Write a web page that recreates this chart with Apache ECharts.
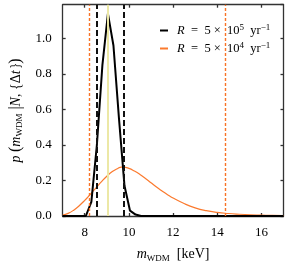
<!DOCTYPE html>
<html>
<head>
<meta charset="utf-8">
<script src="https://cdn.jsdelivr.net/npm/echarts@6/dist/echarts.min.js"></script>
<style>
html,body{margin:0;padding:0;background:#fff;}
#c{width:290px;height:268px;}
</style>
</head>
<body>
<div id="c"></div>
<script>
// Data
const massHigh = [7.0, 8.05, 8.30, 8.55, 8.80, 9.05, 9.30, 9.55, 9.80, 10.05, 10.30, 10.55, 17.0];
const probHigh = [0.0, 0.0, 0.08, 0.40, 0.85, 1.14, 0.96, 0.55, 0.17, 0.03, 0.008, 0.0, 0.0];

const massLow = [7.0, 7.25, 7.5, 7.75, 8.0, 8.25, 8.5, 8.75, 9.0, 9.25, 9.5, 9.65, 9.75, 10.0, 10.25, 10.5, 10.75, 11.0, 11.25, 11.5, 11.75, 12.0, 12.5, 13.0, 13.5, 14.0, 14.5, 15.0, 15.5, 16.0, 16.5, 17.0];
const probLow = [0.005, 0.015, 0.033, 0.058, 0.088, 0.122, 0.157, 0.192, 0.224, 0.25, 0.268, 0.275, 0.275, 0.268, 0.253, 0.234, 0.211, 0.187, 0.163, 0.141, 0.12, 0.101, 0.07, 0.046, 0.03, 0.02, 0.014, 0.01, 0.007, 0.005, 0.003, 0.002];

const highIntervalBounds = [8.54, 9.75];
const lowIntervalBounds = [8.21, 14.37];
const trueMass = [9.05];

const xTicks = [8, 10, 12, 14, 16];
const seriesNames = ['high', 'low'];

const font = 'Liberation Serif';
const chart = echarts.init(document.getElementById('c'), null, {renderer: 'canvas'});

const axisLineStyle = {color: '#333', width: 1.3};
const legendRich = {
  it: {fontStyle: 'italic', fontSize: 12.5, fontFamily: font, color: '#000', lineHeight: 15},
  n: {fontSize: 12.5, fontFamily: font, color: '#000', lineHeight: 15},
  sup: {fontSize: 9, fontFamily: font, verticalAlign: 'top', lineHeight: 15, color: '#000'}
};
const nameRich = {
  it: {fontStyle: 'italic', fontSize: 14, fontFamily: font, color: '#000', lineHeight: 17},
  sub: {fontSize: 9, fontFamily: font, color: '#000', verticalAlign: 'bottom', lineHeight: 17},
  n: {fontSize: 14, fontFamily: font, color: '#000', lineHeight: 17},
  big: {fontSize: 16, fontFamily: font, color: '#000', lineHeight: 17}
};

chart.setOption({
  animation: false,
  backgroundColor: '#fff',
  grid: {left: 54.7, right: 6.5, top: 4.7, bottom: 47.5},
  legend: {
    data: seriesNames,
    orient: 'vertical',
    left: 155,
    top: 18,
    itemWidth: 8,
    itemHeight: 2,
    itemGap: 4,
    icon: 'rect',
    formatter: function (name) {
      if (name === 'high') return '{it|R} {n| =  5 ×  10}{sup|5}{n|  yr}{sup|−1}';
      return '{it|R} {n| =  5 ×  10}{sup|4}{n|  yr}{sup|−1}';
    },
    textStyle: {rich: legendRich, padding: [0, 0, 0, 4]}
  },
  xAxis: [{
    type: 'value', min: 7, max: 17,
    name: '{it|m}{sub|WDM}{n|  [keV]}',
    nameLocation: 'middle', nameGap: 30,
    nameTextStyle: {rich: nameRich},
    axisLine: {show: true, lineStyle: axisLineStyle},
    axisTick: {show: true, inside: true, length: 3, lineStyle: axisLineStyle, customValues: xTicks},
    axisLabel: {customValues: xTicks, margin: 10, fontFamily: font, fontSize: 13, color: '#000'},
    splitLine: {show: false}
  }, {
    type: 'value', min: 7, max: 17, position: 'top',
    axisLine: {show: true, onZero: false, lineStyle: axisLineStyle},
    axisTick: {show: true, inside: true, length: 3, lineStyle: axisLineStyle, customValues: xTicks},
    axisLabel: {show: false},
    splitLine: {show: false}
  }],
  yAxis: [{
    type: 'value', min: 0, max: 1.19, interval: 0.2,
    name: '{it|p} {big|(}{it|m}{sub|WDM}{big| |}{it|N}{n|, {Δ}{it|t}{n|\u2009}}{big|)}',
    nameLocation: 'middle', nameGap: 32, nameRotate: 90,
    nameTextStyle: {rich: nameRich},
    axisLine: {show: true, lineStyle: axisLineStyle},
    axisTick: {show: true, inside: true, length: 3, lineStyle: axisLineStyle},
    axisLabel: {margin: 11, fontFamily: font, fontSize: 13, color: '#000', showMaxLabel: false,
      formatter: v => v.toFixed(1)},
    splitLine: {show: false}
  }, {
    type: 'value', min: 0, max: 1.19, interval: 0.2, position: 'right',
    axisLine: {show: true, onZero: false, lineStyle: axisLineStyle},
    axisTick: {show: true, inside: true, length: 3, lineStyle: axisLineStyle},
    axisLabel: {show: false},
    splitLine: {show: false}
  }],
  series: [
    {
      name: 'truth', type: 'line', data: [], silent: true,
      markLine: {
        symbol: 'none', silent: true, label: {show: false},
        lineStyle: {color: '#ece8a6', width: 2, type: 'solid', opacity: 1},
        data: trueMass.map(v => ({xAxis: v}))
      }
    },
    {
      name: 'low', type: 'line', showSymbol: false, smooth: true,
      data: massLow.map((m, i) => [m, probLow[i]]),
      itemStyle: {color: '#fb7a2e'},
      lineStyle: {color: '#fb7a2e', width: 1.2},
      markLine: {
        symbol: 'none', silent: true, label: {show: false},
        emphasis: {disabled: true},
        data: lowIntervalBounds.map(v => ({
          xAxis: v,
          lineStyle: {color: '#f87326', width: 1.4, type: [3, 2], opacity: 1}
        }))
      },
      z: 3
    },
    {
      name: 'high', type: 'line', showSymbol: false,
      data: massHigh.map((m, i) => [m, probHigh[i]]),
      itemStyle: {color: '#000'},
      lineStyle: {color: '#000', width: 2},
      markLine: {
        symbol: 'none', silent: true, label: {show: false},
        emphasis: {disabled: true},
        data: highIntervalBounds.map(v => ({
          xAxis: v,
          lineStyle: {color: '#111', width: 2, type: [6, 3], opacity: 1}
        }))
      },
      z: 4
    }
  ]
});
</script>
</body>
</html>
